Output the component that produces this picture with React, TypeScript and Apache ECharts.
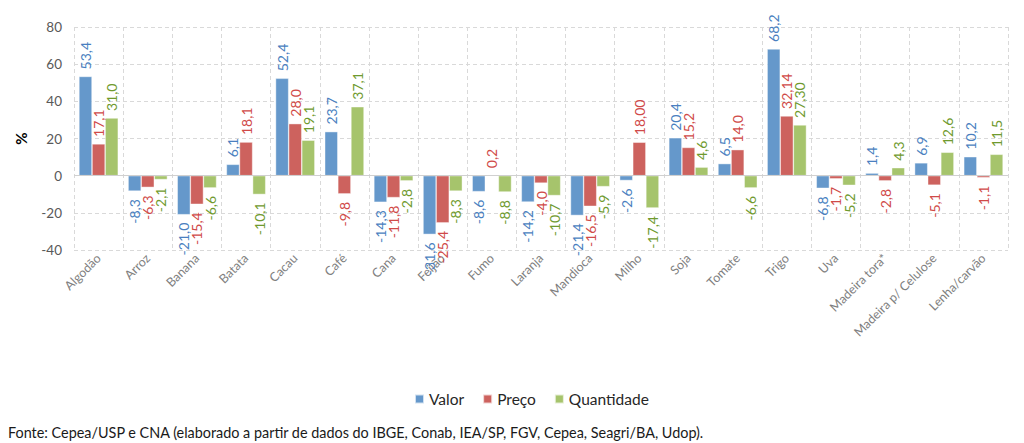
import React, { useEffect, useRef } from "react";
import * as echarts from "echarts";

const categories = [
  "Algodão", "Arroz", "Banana", "Batata", "Cacau", "Café", "Cana", "Feijão", "Fumo",
  "Laranja", "Mandioca", "Milho", "Soja", "Tomate", "Trigo", "Uva", "Madeira tora*",
  "Madeira p/ Celulose", "Lenha/carvão",
];
const valor = [53.4, -8.3, -21.0, 6.1, 52.4, 23.7, -14.3, -31.6, -8.6, -14.2, -21.4, -2.6, 20.4, 6.5, 68.2, -6.8, 1.4, 6.9, 10.2];
const preco = [17.1, -6.3, -15.4, 18.1, 28.0, -9.8, -11.8, -25.4, 0.2, -4.0, -16.5, 18.0, 15.2, 14.0, 32.14, -1.7, -2.8, -5.1, -1.1];
const quantidade = [31.0, -2.1, -6.6, -10.1, 19.1, 37.1, -2.8, -8.3, -8.8, -10.7, -5.9, -17.4, 4.6, -6.6, 27.3, -5.2, 4.3, 12.6, 11.5];
// decimals shown in each label
const valorDecimals = [1, 1, 1, 1, 1, 1, 1, 1, 1, 1, 1, 1, 1, 1, 1, 1, 1, 1, 1];
const precoDecimals = [1, 1, 1, 1, 1, 1, 1, 1, 1, 1, 1, 2, 1, 1, 2, 1, 1, 1, 1];
const quantidadeDecimals = [1, 1, 1, 1, 1, 1, 1, 1, 1, 1, 1, 1, 1, 1, 2, 1, 1, 1, 1];
const yTicks = { min: -40, max: 80, interval: 20 };
const footer = "Fonte: Cepea/USP e CNA (elaborado a partir de dados do IBGE, Conab, IEA/SP, FGV, Cepea, Seagri/BA, Udop).";

const FONT = "Lato, 'Open Sans', sans-serif";

function makeSeries(name: string, values: number[], decimals: number[], color: string, labelColor: string, withZero: boolean) {
  const s: any = {
    name,
    type: "bar",
    barGap: "0%",
    barCategoryGap: "20%",
    itemStyle: { color, borderColor: "rgba(255,255,255,0.7)", borderWidth: 0.6 },
    data: values.map((v, i) => {
      const txt = v.toFixed(decimals[i]).replace(".", ",");
      const pos = v >= 0;
      return {
        value: v,
        label: {
          show: true,
          position: pos ? "top" : "bottom",
          rotate: 90,
          align: pos ? "left" : "right",
          verticalAlign: "middle",
          distance: pos ? 7 : 8,
          color: labelColor,
          fontFamily: FONT,
          fontSize: 14,
          formatter: () => txt,
        },
      };
    }),
  };
  if (withZero) {
    s.markLine = {
      silent: true,
      symbol: "none",
      label: { show: false },
      lineStyle: { color: "#d0d0d0", type: "solid", width: 1 },
      data: [{ yAxis: 0 }],
    };
  }
  return s;
}

export default function App() {
  const ref = useRef<HTMLDivElement>(null);
  useEffect(() => {
    if (!ref.current) return;
    const chart = echarts.init(ref.current, undefined, { renderer: "svg" });
    chart.setOption({
      animation: false,
      backgroundColor: "#ffffff",
      textStyle: { fontFamily: FONT },
      grid: { left: 74, right: 16, top: 27, bottom: 193 },
      legend: {
        data: ["Valor", "Preço", "Quantidade"],
        top: 386,
        left: 409,
        icon: "rect",
        itemWidth: 9,
        itemHeight: 9,
        itemGap: 18,
        textStyle: { fontFamily: FONT, fontSize: 15.5, color: "#262626" },
      },
      xAxis: {
        type: "category",
        data: categories,
        axisLine: { show: false },
        axisTick: { show: false },
        axisLabel: { interval: 0, rotate: 45, color: "#7f7f7f", fontSize: 12.5, fontFamily: FONT, margin: 6 },
        splitLine: { show: true, interval: 0, lineStyle: { color: "#d9d9d9", type: [4, 3] } },
      },
      yAxis: {
        type: "value",
        min: yTicks.min,
        max: yTicks.max,
        interval: yTicks.interval,
        name: "%",
        nameLocation: "middle",
        nameGap: 46,
        nameRotate: 90,
        nameTextStyle: { fontFamily: FONT, fontSize: 15, fontWeight: "bold", color: "#000" },
        axisLine: { show: false },
        axisTick: { show: false },
        axisLabel: { color: "#595959", fontSize: 13.5, fontFamily: FONT, margin: 12 },
        splitLine: { show: true, lineStyle: { color: "#d9d9d9", type: [4, 3] } },
      },
      graphic: [
        {
          type: "text",
          left: 8,
          top: 425,
          style: { text: footer, fontFamily: FONT, fontSize: 14.4, fill: "#1a1a1a" },
        },
      ],
      series: [
        makeSeries("Valor", valor, valorDecimals, "#6598cb", "#4a7fc0", true),
        makeSeries("Preço", preco, precoDecimals, "#cd625e", "#d04a48", false),
        makeSeries("Quantidade", quantidade, quantidadeDecimals, "#a6c46c", "#6f9a2e", false),
      ],
    });
    return () => chart.dispose();
  }, []);
  return <div ref={ref} style={{ position: "fixed", left: 0, top: 0, width: 1024, height: 443 }} />;
}
